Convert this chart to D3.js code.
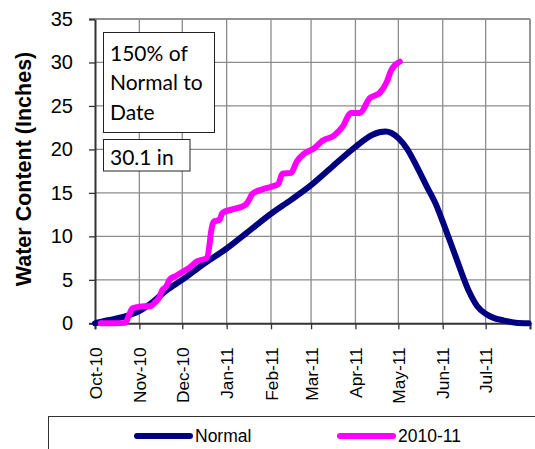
<!DOCTYPE html>
<html><head><meta charset="utf-8">
<script src="https://cdn.jsdelivr.net/npm/d3@7"></script>
<style>
body{margin:0;background:#fff;}
svg{display:block;font-family:"Liberation Sans",Arial,sans-serif;}
</style></head>
<body><svg id="c" width="535" height="449"></svg>
<script>
const normalDates = ["2010-10-01","2010-10-10","2010-10-20","2010-10-25","2010-11-01","2010-11-10","2010-11-20","2010-12-01","2010-12-15","2011-01-01","2011-01-15","2011-02-01","2011-02-15","2011-03-01","2011-03-15","2011-04-01","2011-04-13","2011-04-22","2011-05-01","2011-05-07","2011-05-14","2011-05-21","2011-05-28","2011-06-01","2011-06-10","2011-06-19","2011-06-25","2011-07-01","2011-07-07","2011-07-13","2011-07-22","2011-07-31"];
const normalValues = [0,0.35,0.7,0.95,1.4,2.4,3.8,5.0,6.7,8.6,10.4,12.6,14.2,15.9,17.9,20.3,21.7,22.05,21.3,20.1,18.0,15.7,13.4,11.7,7.7,3.8,2.0,1.1,0.6,0.35,0.07,0];
const wyDates = ["2010-10-05","2010-10-15","2010-10-22","2010-10-25","2010-10-27","2010-11-01","2010-11-09","2010-11-12","2010-11-15","2010-11-17","2010-11-20","2010-11-22","2010-11-27","2010-12-01","2010-12-06","2010-12-11","2010-12-18","2010-12-20","2010-12-21","2010-12-23","2010-12-27","2010-12-29","2011-01-05","2011-01-14","2011-01-17","2011-01-19","2011-01-26","2011-02-01","2011-02-06","2011-02-09","2011-02-15","2011-02-19","2011-02-24","2011-03-03","2011-03-09","2011-03-17","2011-03-23","2011-03-29","2011-04-04","2011-04-11","2011-04-18","2011-04-23","2011-04-26","2011-05-02"];
const wyValues = [0,0,0.05,1.0,1.7,1.9,2.0,2.4,3.0,3.8,4.3,5.0,5.5,5.9,6.4,7.1,7.5,9.0,10.4,11.7,11.9,12.7,13.1,13.6,14.3,14.9,15.4,15.7,16.0,17.2,17.3,18.6,19.5,20.1,21.0,21.6,22.6,24.2,24.2,25.9,26.5,27.8,29.1,30.1];
const monthTicks = ["2010-10-01","2010-11-01","2010-12-01","2011-01-01","2011-02-01","2011-03-01","2011-04-01","2011-05-01","2011-06-01","2011-07-01","2011-08-01"];
const yTicks = [0,5,10,15,20,25,30,35];
const seriesNames = ["Normal","2010-11"];
const boxLines = ["150% of","Normal to","Date"];
const boxValue = "30.1 in";
const yTitle = "Water Content (Inches)";

const parse = d3.timeParse("%Y-%m-%d");
const fmt = d3.timeFormat("%b-%y");
const svg = d3.select("#c");
const L=95, R=530, T=19, B=323.3;
const x = d3.scaleTime().domain([parse("2010-10-01"), parse("2011-08-01")]).range([L,R]);
const y = d3.scaleLinear().domain([0,35]).range([B,T]);
const gridCol = "#8c8c8c";

// grid
const g = svg.append("g");
g.selectAll(".hg").data(yTicks.filter(v=>v>0)).join("line")
  .attr("x1",L).attr("x2",R).attr("y1",d=>y(d)).attr("y2",d=>y(d))
  .attr("stroke",gridCol).attr("stroke-width",1.3);
g.selectAll(".vg").data(monthTicks.slice(1)).join("line")
  .attr("x1",d=>x(parse(d))).attr("x2",d=>x(parse(d))).attr("y1",T).attr("y2",B)
  .attr("stroke",gridCol).attr("stroke-width",1.3);

// axes
const yAxis = d3.axisLeft(y).tickValues(yTicks).tickSize(6).tickPadding(16).tickFormat(d3.format("d"));
const ya = svg.append("g").attr("transform",`translate(${L},0)`).call(yAxis);
ya.select(".domain").attr("stroke","#333").attr("stroke-width",2);
ya.selectAll(".tick line").attr("stroke","#333").attr("stroke-width",1.3);
ya.selectAll("text").attr("font-size",20).attr("fill","#000").attr("font-family","Liberation Sans, Arial, sans-serif");

const xAxis = d3.axisBottom(x).tickValues(monthTicks.map(parse)).tickSize(6).tickFormat((d,i)=> i<monthTicks.length-1 ? fmt(d) : "");
const xa = svg.append("g").attr("transform",`translate(0,${B})`).call(xAxis);
xa.select(".domain").attr("stroke","#333").attr("stroke-width",2);
xa.selectAll(".tick line").attr("stroke","#333").attr("stroke-width",1.3);
xa.selectAll("text").attr("font-size",17.3).attr("fill","#000").attr("font-family","Liberation Sans, Arial, sans-serif")
  .attr("transform","rotate(-90)").attr("text-anchor","end").attr("x",-24).attr("y",0).attr("dy","0.35em");

// top & right border
svg.append("line").attr("x1",L).attr("x2",R).attr("y1",T).attr("y2",T).attr("stroke",gridCol).attr("stroke-width",1.5);
svg.append("line").attr("x1",R).attr("x2",R).attr("y1",T).attr("y2",B).attr("stroke",gridCol).attr("stroke-width",1.5);

// lines
const line = d3.line().x(d=>x(d[0])).y(d=>y(d[1])).curve(d3.curveMonotoneX);
const nData = normalDates.map((d,i)=>[parse(d),normalValues[i]]);
const wData = wyDates.map((d,i)=>[parse(d),wyValues[i]]);
svg.append("path").datum(nData).attr("d",line).attr("fill","none").attr("stroke","#000080")
  .attr("stroke-width",6).attr("stroke-linejoin","round").attr("stroke-linecap","round");
svg.append("path").datum(wData).attr("d",line).attr("fill","none").attr("stroke","#ff00ff")
  .attr("stroke-width",6).attr("stroke-linejoin","round").attr("stroke-linecap","round");

// y title
svg.append("text").attr("transform","translate(31,169) rotate(-90)").attr("text-anchor","middle")
  .attr("font-size",21.5).attr("font-weight","bold").text(yTitle);

// text boxes
const bf = "Lato, 'Open Sans', sans-serif";
svg.append("rect").attr("x",103.5).attr("y",32.5).attr("width",111).attr("height",100)
  .attr("fill","#fff").attr("stroke","#222").attr("stroke-width",1);
svg.append("g").selectAll("text").data(boxLines).join("text")
  .attr("x",110).attr("y",(d,i)=>61+i*29.3).attr("font-size",21).attr("font-family",bf).text(d=>d);
svg.append("rect").attr("x",103.5).attr("y",139.5).attr("width",86.5).attr("height",31.5)
  .attr("fill","#fff").attr("stroke","#222").attr("stroke-width",1);
svg.append("text").attr("x",110).attr("y",164.5).attr("font-size",21).attr("font-family",bf).text(boxValue);

// legend
svg.append("rect").attr("x",48.5).attr("y",416.5).attr("width",500).attr("height",50)
  .attr("fill","#fff").attr("stroke","#333").attr("stroke-width",1);
const legCols = ["#000080","#ff00ff"];
const legX = [137,340];
const lg = svg.append("g").selectAll("g").data(seriesNames).join("g")
  .attr("transform",(d,i)=>`translate(${legX[i]},436)`);
lg.append("line").attr("x1",0).attr("x2",53).attr("y1",0).attr("y2",0)
  .attr("stroke",(d,i)=>legCols[i]).attr("stroke-width",6).attr("stroke-linecap","round");
lg.append("text").attr("x",58).attr("y",0).attr("dy","0.35em").attr("font-size",17.5).text(d=>d);
</script></body></html>
